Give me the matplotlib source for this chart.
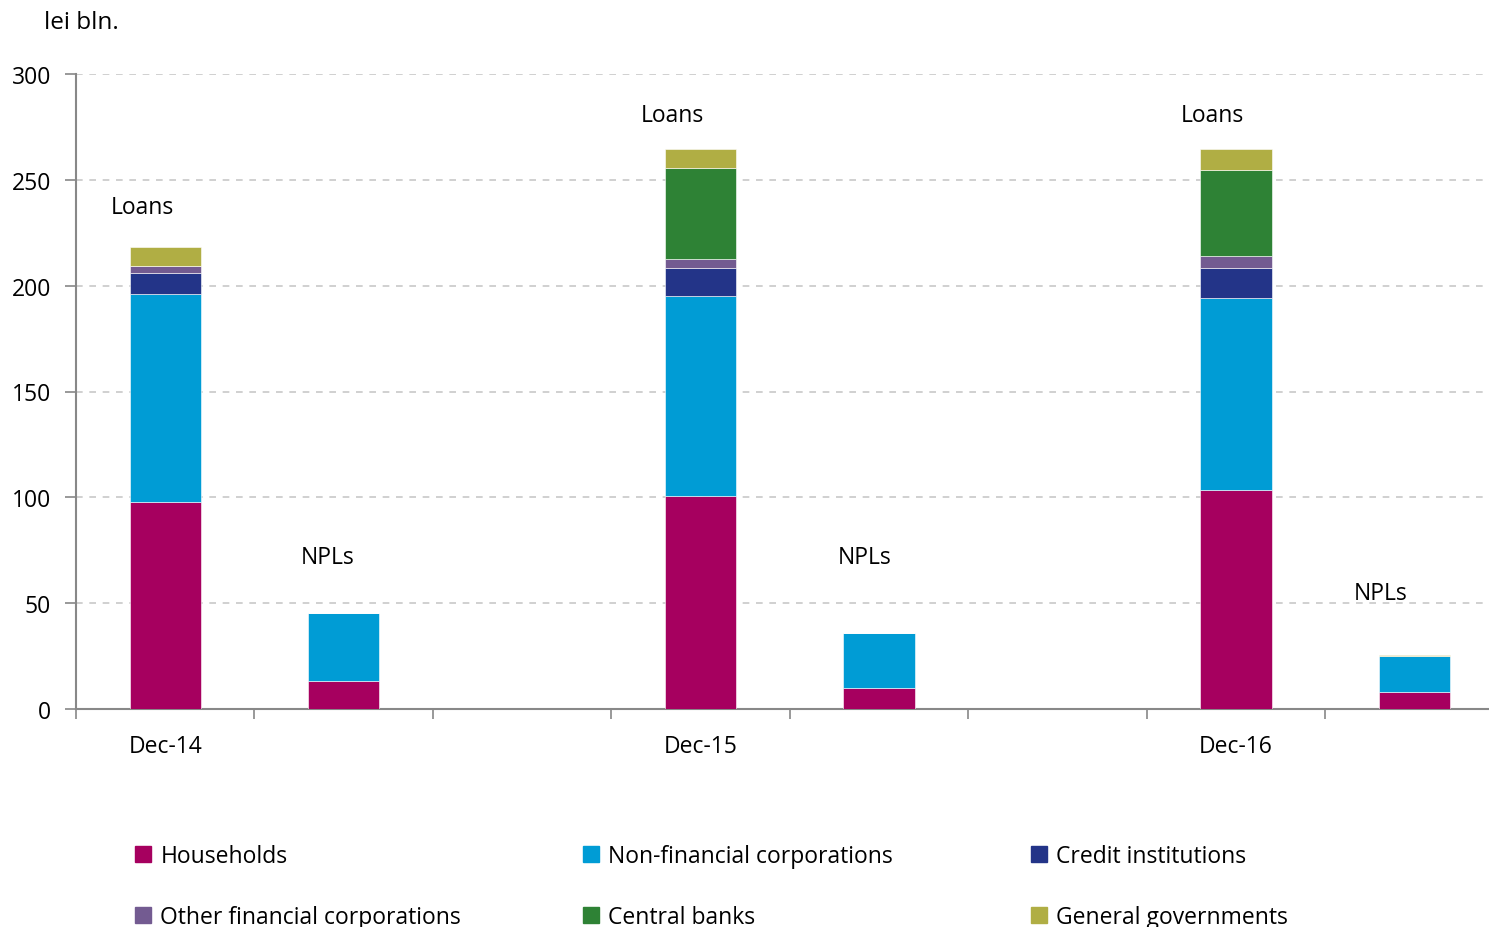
import matplotlib.pyplot as plt
import matplotlib.patches as mpatches
import numpy as np

plt.rcParams['font.family'] = ['Open Sans', 'DejaVu Sans']

# slot order: Loans / NPLs for each year, empty slot between years
slots = ['Loans', 'NPLs', '', 'Loans', 'NPLs', '', 'Loans', 'NPLs']
years = ['Dec-14', 'Dec-15', 'Dec-16']

sectors = ['Households', 'Non-financial corporations', 'Credit institutions',
           'Other financial corporations', 'Central banks', 'General governments']
colors = ['#A6005F', '#009CD5', '#233488', '#735B91', '#2E8235', '#B0AE44']

households = [97.8, 13.4, 0, 100.6, 9.7, 0, 103.5, 7.9]
nonfin     = [98.3, 31.8, 0, 94.7, 26.0, 0, 90.7, 17.3]
credit     = [9.8, 0.2, 0, 13.2, 0.1, 0, 14.3, 0.0]
otherfin   = [3.4, 0.0, 0, 4.1, 0.0, 0, 5.5, 0.0]
central    = [0.0, 0.0, 0, 43.0, 0.0, 0, 40.8, 0.0]
govt       = [8.8, 0.0, 0, 9.1, 0.1, 0, 9.9, 0.3]
series = [households, nonfin, credit, otherfin, central, govt]

fig = plt.figure(figsize=(14.89, 9.28), dpi=100)
ax = fig.add_axes([76/1489, (928-710)/928, 1 - 76/1489, (710-75)/928])

x = np.arange(len(slots))
bottom = np.zeros(len(slots))
for vals, c in zip(series, colors):
    ax.bar(x, vals, 0.4, bottom=bottom, color=c, edgecolor='white', linewidth=0.4, zorder=3)
    bottom += np.array(vals)

# Loans / NPLs labels above the bars
label_pos = {0: (-0.13, 237), 1: (-0.09, 72), 3: (-0.16, 280.5), 4: (-0.08, 72),
             6: (-0.13, 280.5), 7: (-0.19, 55)}
for i, (dx, y) in label_pos.items():
    ax.text(x[i] + dx, y, slots[i], ha='center', va='center', fontsize=16.5)

ax.set_xlim(-0.5, (1489 - 165) / 178.5)
ax.set_ylim(0, 300)
ax.set_yticks(range(0, 301, 50))
ax.tick_params(axis='y', length=8, width=1.2, color='#888888', labelsize=16.5, pad=10)
ax.yaxis.grid(True, linestyle=(0, (4, 4)), color='#c8c8c8', linewidth=1.2, zorder=0)

ax.set_xticks(np.arange(-0.5, 7.0, 1.0))
ax.set_xticklabels([])
ax.tick_params(axis='x', which='major', length=7, width=1.2, color='#888888', direction='out')
ax.set_xticks([0, 3, 6], minor=True)
ax.set_xticklabels(years, minor=True)
ax.tick_params(axis='x', which='minor', length=0, labelsize=16.5, pad=18)

for s in ['top', 'right']:
    ax.spines[s].set_visible(False)
for s in ['left', 'bottom']:
    ax.spines[s].set_color('#888888')
    ax.spines[s].set_linewidth(1.5)

fig.text(44/1489, 1 - 23/928, 'lei bln.', fontsize=17.5, va='center')

# legend: three columns placed at fixed positions
handles = [mpatches.Patch(color=c) for c in colors]
col_x = [126, 574, 1022]
for k in range(3):
    idx = [k, k + 3]
    leg = fig.legend([handles[i] for i in idx], [sectors[i] for i in idx],
                     loc='upper left', bbox_to_anchor=(col_x[k]/1489, 1 - 836/928),
                     frameon=False, fontsize=16.5, handlelength=0.7, handleheight=0.7,
                     handletextpad=0.4, labelspacing=1.6, borderaxespad=0)

fig.savefig('out.png', dpi=100)
